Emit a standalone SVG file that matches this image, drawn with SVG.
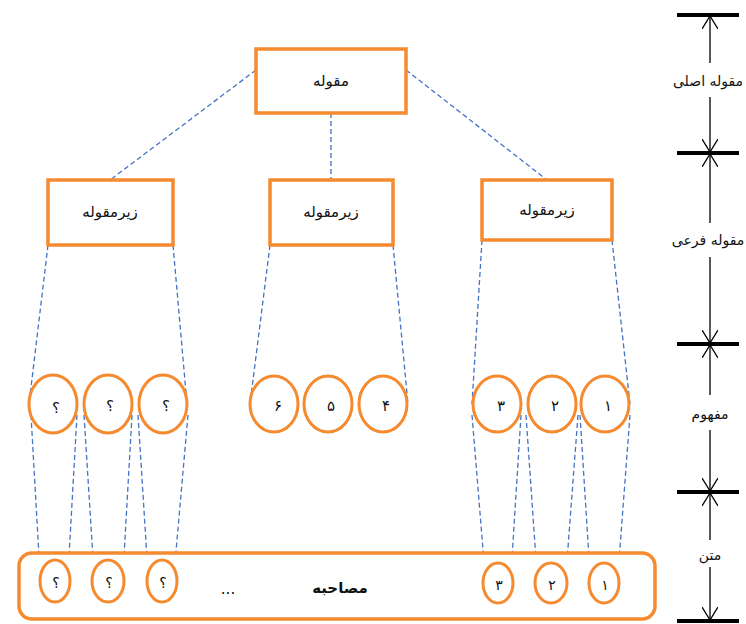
<svg xmlns="http://www.w3.org/2000/svg" width="746" height="624" viewBox="0 0 746 624">
<defs>
<style>
.box{fill:#fff;stroke:#F58A2F;stroke-width:3.5}
.circ{fill:#fff;stroke:#F58A2F;stroke-width:3}
.dash{stroke:#4472C4;stroke-width:1.3;stroke-dasharray:5 3;fill:none}
.t{font-family:"DejaVu Sans",sans-serif;font-size:15px;fill:#111;text-anchor:middle;dominant-baseline:central}
.ts{font-family:"DejaVu Sans",sans-serif;font-size:14px;fill:#111;text-anchor:middle;dominant-baseline:central}
.tick{stroke:#000;stroke-width:4}
.ax{stroke:#000;stroke-width:1.3;fill:none}
</style>
<marker id="ah" viewBox="0 0 14 16" refX="13" refY="8" markerWidth="14" markerHeight="16" markerUnits="userSpaceOnUse" orient="auto">
<path d="M0,0 L13,8 L0,16" fill="none" stroke="#000" stroke-width="1.3"/>
</marker>
</defs>
<rect width="746" height="624" fill="#fff"/>
<g id="connectors">
<line class="dash" x1="256" y1="70" x2="110" y2="180"/>
<line class="dash" x1="406" y1="70" x2="547" y2="180"/>
<line class="dash" x1="331" y1="113" x2="331" y2="180"/>
<line class="dash" x1="48" y1="245" x2="29" y2="404"/>
<line class="dash" x1="173" y1="245" x2="187" y2="404"/>
<line class="dash" x1="270" y1="245" x2="250" y2="404"/>
<line class="dash" x1="393" y1="245" x2="408" y2="404"/>
<line class="dash" x1="482" y1="240" x2="472" y2="404"/>
<line class="dash" x1="612" y1="240" x2="630" y2="404"/>
<line class="dash" x1="31" y1="415" x2="40" y2="574"/>
<line class="dash" x1="77" y1="415" x2="68" y2="574"/>
<line class="dash" x1="84" y1="415" x2="94" y2="574"/>
<line class="dash" x1="132" y1="415" x2="123" y2="574"/>
<line class="dash" x1="138" y1="415" x2="148" y2="574"/>
<line class="dash" x1="188" y1="415" x2="174" y2="574"/>
<line class="dash" x1="472" y1="415" x2="485" y2="574"/>
<line class="dash" x1="521" y1="415" x2="511" y2="574"/>
<line class="dash" x1="526" y1="415" x2="537" y2="574"/>
<line class="dash" x1="578" y1="415" x2="566" y2="574"/>
<line class="dash" x1="580" y1="415" x2="590" y2="574"/>
<line class="dash" x1="630" y1="415" x2="618" y2="574"/>
</g>
<g id="main">
<rect class="box" x="256" y="49" width="150" height="64"/>
<text class="t" x="331" y="81">مقوله</text>
</g>
<g id="sub1">
<rect class="box" x="48" y="180" width="125" height="65"/>
<text class="t" x="110" y="212">زیرمقوله</text>
</g>
<g id="sub2">
<rect class="box" x="270" y="180" width="123" height="65"/>
<text class="t" x="331" y="212">زیرمقوله</text>
</g>
<g id="sub3">
<rect class="box" x="482" y="180" width="130" height="60"/>
<text class="t" x="547" y="210">زیرمقوله</text>
</g>
<g id="c-q1"><ellipse class="circ" cx="53" cy="404" rx="24" ry="29"/><text class="t" x="56" y="408">؟</text></g>
<g id="c-q2"><ellipse class="circ" cx="108" cy="404" rx="24" ry="29"/><text class="t" x="110" y="406">؟</text></g>
<g id="c-q3"><ellipse class="circ" cx="163" cy="404" rx="24" ry="29"/><text class="t" x="166" y="406">؟</text></g>
<g id="c6"><ellipse class="circ" cx="274" cy="404" rx="24" ry="28"/><text class="t" x="278" y="406">۶</text></g>
<g id="c5"><ellipse class="circ" cx="328" cy="404" rx="24" ry="28"/><text class="t" x="331" y="406">۵</text></g>
<g id="c4"><ellipse class="circ" cx="383" cy="404" rx="24" ry="28"/><text class="t" x="386" y="406">۴</text></g>
<g id="c3"><ellipse class="circ" cx="497" cy="404" rx="24" ry="28"/><text class="t" x="501" y="406">۳</text></g>
<g id="c2"><ellipse class="circ" cx="552" cy="404" rx="24" ry="28"/><text class="t" x="555" y="406">۲</text></g>
<g id="c1"><ellipse class="circ" cx="605" cy="404" rx="24" ry="28"/><text class="t" x="608" y="406">۱</text></g>
<g id="text-box">
<rect class="box" x="19" y="553" width="636" height="66" rx="13"/>
<text class="t" x="228" y="589">...</text>
<text class="t" x="340" y="588" style="font-weight:bold">مصاحبه</text>
</g>
<g id="s-q1"><ellipse class="circ" cx="55" cy="581" rx="15" ry="21"/><text class="ts" x="56" y="583">؟</text></g>
<g id="s-q2"><ellipse class="circ" cx="108" cy="581" rx="16" ry="21"/><text class="ts" x="109" y="583">؟</text></g>
<g id="s-q3"><ellipse class="circ" cx="162" cy="581" rx="15" ry="21"/><text class="ts" x="163" y="583">؟</text></g>
<g id="s3"><ellipse class="circ" cx="498" cy="583" rx="15" ry="20"/><text class="ts" x="499" y="585">۳</text></g>
<g id="s2"><ellipse class="circ" cx="551" cy="583" rx="16" ry="20"/><text class="ts" x="552" y="585">۲</text></g>
<g id="s1"><ellipse class="circ" cx="604" cy="583" rx="15" ry="20"/><text class="ts" x="605" y="585">۱</text></g>
<g id="scale">
<line class="tick" x1="677" y1="15" x2="739" y2="15"/>
<line class="tick" x1="677" y1="153" x2="739" y2="153"/>
<line class="tick" x1="677" y1="344" x2="739" y2="344"/>
<line class="tick" x1="677" y1="492" x2="739" y2="492"/>
<line class="tick" x1="677" y1="621" x2="739" y2="621"/>
<line class="ax" x1="710" y1="63" x2="710" y2="16" marker-end="url(#ah)"/>
<line class="ax" x1="710" y1="97" x2="710" y2="152" marker-end="url(#ah)"/>
<text class="ts" x="708" y="81">مقوله اصلی</text>
<line class="ax" x1="710" y1="223" x2="710" y2="154" marker-end="url(#ah)"/>
<line class="ax" x1="710" y1="257" x2="710" y2="343" marker-end="url(#ah)"/>
<text class="ts" x="708" y="240">مقوله فرعی</text>
<line class="ax" x1="710" y1="395" x2="710" y2="345" marker-end="url(#ah)"/>
<line class="ax" x1="710" y1="430" x2="710" y2="491" marker-end="url(#ah)"/>
<text class="ts" x="710" y="414">مفهوم</text>
<line class="ax" x1="710" y1="540" x2="710" y2="493" marker-end="url(#ah)"/>
<line class="ax" x1="710" y1="567" x2="710" y2="620" marker-end="url(#ah)"/>
<text class="ts" x="710" y="555">متن</text>
</g>
</svg>
